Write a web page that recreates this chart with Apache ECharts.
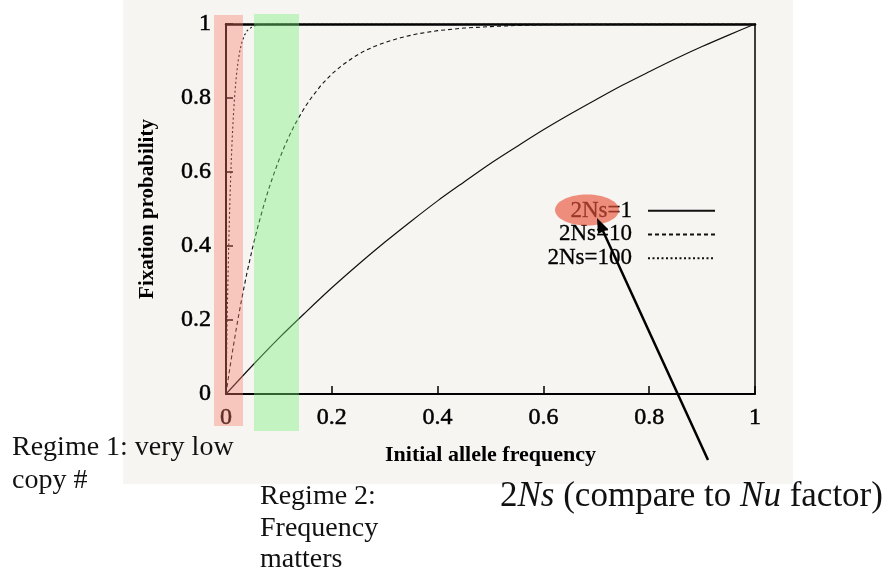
<!DOCTYPE html>
<html>
<head>
<meta charset="utf-8">
<script src="https://cdn.jsdelivr.net/npm/echarts@6/dist/echarts.min.js"></script>
<style>
html,body{margin:0;padding:0;background:#ffffff;}
#chart{width:888px;height:573px;}
</style>
</head>
<body>
<div id="chart"></div>
<script>
// ---- data ----
const xTicks = [0, 0.2, 0.4, 0.6, 0.8, 1];
const yTicks = [0, 0.2, 0.4, 0.6, 0.8, 1];
const seriesNames = ['2Ns=1', '2Ns=10', '2Ns=100'];

// 2Ns = 1 (solid)
const x1 = [0, 0.05, 0.1, 0.15, 0.2, 0.25, 0.3, 0.35, 0.4, 0.45, 0.5, 0.55, 0.6, 0.65, 0.7, 0.75, 0.8, 0.85, 0.9, 0.95, 1];
const y1 = [0, 0.077, 0.151, 0.220, 0.287, 0.350, 0.410, 0.467, 0.522, 0.573, 0.623, 0.669, 0.714, 0.756, 0.796, 0.835, 0.871, 0.906, 0.939, 0.970, 1];

// 2Ns = 10 (dashed)
const x2 = [0, 0.005, 0.01, 0.015, 0.02, 0.025, 0.03, 0.035, 0.04, 0.045, 0.05, 0.06, 0.07, 0.08, 0.09, 0.1, 0.11, 0.12, 0.13, 0.14, 0.15, 0.16, 0.18, 0.2, 0.22, 0.24, 0.26, 0.28, 0.3, 0.33, 0.36, 0.4, 0.45, 0.5, 0.55, 0.6, 0.7, 0.8, 0.9, 1];
const y2 = [0, 0.049, 0.095, 0.139, 0.181, 0.221, 0.259, 0.295, 0.330, 0.362, 0.394, 0.451, 0.503, 0.551, 0.593, 0.632, 0.667, 0.699, 0.728, 0.753, 0.777, 0.798, 0.835, 0.865, 0.889, 0.909, 0.926, 0.939, 0.950, 0.963, 0.973, 0.982, 0.989, 0.993, 0.996, 0.998, 0.999, 1.0, 1.0, 1];

// 2Ns = 100 (dotted)
const x3 = [0, 0.001, 0.002, 0.003, 0.004, 0.005, 0.006, 0.007, 0.008, 0.009, 0.01, 0.012, 0.014, 0.016, 0.018, 0.02, 0.023, 0.026, 0.03, 0.035, 0.04, 0.05, 0.06, 0.08, 0.1, 1];
const y3 = [0, 0.095, 0.181, 0.259, 0.330, 0.394, 0.451, 0.503, 0.551, 0.593, 0.632, 0.699, 0.753, 0.798, 0.835, 0.865, 0.900, 0.926, 0.950, 0.970, 0.982, 0.993, 0.998, 1.0, 1, 1];

// annotation texts
const regime1 = ['Regime 1: very low', 'copy #'];
const regime2 = ['Regime 2:', 'Frequency', 'matters'];

const zip = (xs, ys) => xs.map((x, i) => [x, ys[i]]);

const chart = echarts.init(document.getElementById('chart'), null, {renderer: 'canvas'});
const serif = 'Liberation Serif';
const ink = {textBorderColor: '#000', textBorderWidth: 0.5};

const gridL = 226, gridT = 24, gridW = 529, gridH = 370;

const option = {
  backgroundColor: '#ffffff',
  animation: false,
  grid: {left: gridL, top: gridT, width: gridW, height: gridH, containLabel: false},
  xAxis: [{
    type: 'value', min: 0, max: 1, interval: 0.2, position: 'bottom',
    name: 'Initial allele frequency', nameLocation: 'middle', nameGap: 50,
    nameTextStyle: {fontFamily: serif, fontSize: 22, fontWeight: 'bold', color: '#000'},
    axisLine: {show: true, onZero: false, lineStyle: {color: '#000', width: 2}},
    axisTick: {show: true, inside: true, length: 8, lineStyle: {color: '#000', width: 1.5}},
    axisLabel: Object.assign({fontFamily: serif, fontSize: 24, color: '#000', margin: 12,
      formatter: v => String(+v.toFixed(1))}, ink),
    splitLine: {show: false}
  }, {
    type: 'value', min: 0, max: 1, position: 'top',
    axisLine: {show: true, onZero: false, lineStyle: {color: '#000', width: 2.5}},
    axisTick: {show: false}, axisLabel: {show: false}, splitLine: {show: false}
  }],
  yAxis: [{
    type: 'value', min: 0, max: 1, interval: 0.2, position: 'left',
    name: 'Fixation probability', nameLocation: 'middle', nameGap: 68, nameRotate: 90,
    nameTextStyle: {fontFamily: serif, fontSize: 21, fontWeight: 'bold', color: '#000'},
    axisLine: {show: true, onZero: false, lineStyle: {color: '#000', width: 2}},
    axisTick: {show: true, inside: true, length: 7, lineStyle: {color: '#000', width: 1.5}},
    axisLabel: Object.assign({fontFamily: serif, fontSize: 24, color: '#000', margin: 15,
      formatter: v => String(+v.toFixed(1))}, ink),
    splitLine: {show: false}
  }, {
    type: 'value', min: 0, max: 1, position: 'right',
    axisLine: {show: true, onZero: false, lineStyle: {color: '#000', width: 1.5}},
    axisTick: {show: false}, axisLabel: {show: false}, splitLine: {show: false}
  }],
  legend: {
    orient: 'vertical', align: 'right', right: 167, top: 194,
    itemWidth: 67, itemHeight: 10, itemGap: 0.5,
    itemStyle: {color: 'rgba(0,0,0,0)', borderWidth: 0, opacity: 0},
    textStyle: Object.assign({fontFamily: serif, fontSize: 23, color: '#000', lineHeight: 23, padding: [0, 11, 0, 0]}, {textBorderColor: '#000', textBorderWidth: 0.3}),
    data: seriesNames.map(n => ({name: n}))
  },
  series: [
    {name: seriesNames[0], type: 'line', data: zip(x1, y1), symbol: 'none', smooth: 0.3,
     lineStyle: {color: '#111', width: 1.2, type: 'solid'}, z: 3},
    {name: seriesNames[1], type: 'line', data: zip(x2, y2), symbol: 'none', smooth: false,
     lineStyle: {color: '#111', width: 1.1, type: [4, 3]}, z: 3},
    {name: seriesNames[2], type: 'line', data: zip(x3, y3), symbol: 'none', smooth: false,
     lineStyle: {color: '#111', width: 1.1, type: [2, 2.5]}, z: 3}
  ],
  graphic: [
    // scanned page background
    {type: 'rect', z: -100, silent: true, shape: {x: 123, y: 0, width: 670, height: 484},
     style: {fill: '#f6f5f2'}},
    // regime bands (translucent overlays)
    {type: 'rect', z: 100, silent: true, shape: {x: 214, y: 15, width: 29, height: 411},
     style: {fill: 'rgba(250,120,100,0.38)'}},
    {type: 'rect', z: 100, silent: true, shape: {x: 254, y: 14, width: 45, height: 417},
     style: {fill: 'rgba(120,240,120,0.40)'}},
    // highlight ellipse over legend label
    {type: 'ellipse', z: 100, silent: true, shape: {cx: 587, cy: 210, rx: 32, ry: 15.5},
     style: {fill: 'rgba(235,85,60,0.65)'}},
    // arrow
    {type: 'line', z: 101, silent: true, shape: {x1: 708, y1: 460, x2: 603, y2: 231},
     style: {stroke: '#000', lineWidth: 2.5}},
    {type: 'polygon', z: 101, silent: true, shape: {points: [[597, 218], [608, 229], [598, 234]]},
     style: {fill: '#000'}},
    // annotation texts
    {type: 'text', z: 101, left: 12, top: 431, style: {text: regime1.join('\n'), font: '28px "Liberation Serif"', fill: '#111', lineHeight: 33}},
    {type: 'text', z: 101, left: 260, top: 481, style: {text: regime2.join('\n'), font: '28px "Liberation Serif"', fill: '#111', lineHeight: 31.5}},
    {type: 'text', z: 101, left: 500, top: 479, style: {
      rich: {
        n: {fontFamily: serif, fontSize: 35, fill: '#111'},
        i: {fontFamily: serif, fontSize: 35, fontStyle: 'italic', fill: '#111'}
      },
      text: '{n|2}{i|Ns}{n| (compare to }{i|Nu}{n| factor)}'
    }}
  ]
};
chart.setOption(option);
</script>
</body>
</html>
